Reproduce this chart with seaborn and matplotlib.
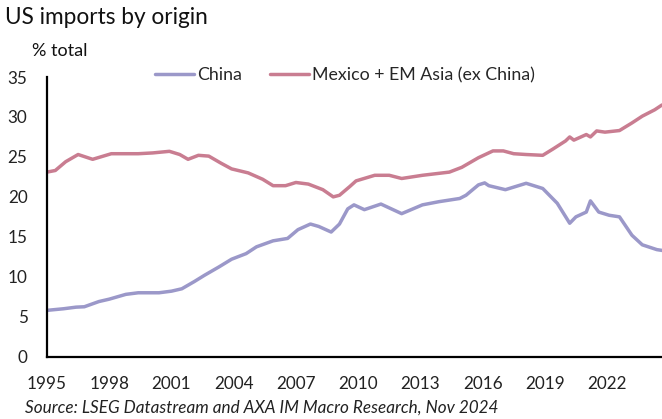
import matplotlib
matplotlib.use("Agg")
import matplotlib.pyplot as plt
import seaborn as sns
import pandas as pd
from matplotlib.lines import Line2D

china_x = [1995.0, 1995.8, 1996.4, 1996.8, 1997.5, 1998.0, 1998.8, 1999.4, 2000.4, 2001.0,
           2001.5, 2002.1, 2002.6, 2003.3, 2003.9, 2004.6, 2005.1, 2005.9, 2006.6, 2007.1,
           2007.7, 2008.1, 2008.7, 2009.1, 2009.5, 2009.8, 2010.3, 2011.1, 2012.1, 2013.1,
           2013.9, 2014.9, 2015.2, 2015.8, 2016.1, 2016.3, 2017.1, 2018.1, 2018.9, 2019.6,
           2020.2, 2020.5, 2021.0, 2021.2, 2021.6, 2022.1, 2022.6, 2023.2, 2023.7, 2024.4,
           2024.65]
china_y = [5.8, 6.0, 6.2, 6.25, 6.9, 7.2, 7.8, 8.0, 8.0, 8.2,
           8.5, 9.4, 10.2, 11.25, 12.2, 12.9, 13.75, 14.5, 14.8, 15.9,
           16.6, 16.3, 15.6, 16.6, 18.5, 19.0, 18.4, 19.1, 17.9, 19.0,
           19.4, 19.8, 20.2, 21.5, 21.75, 21.4, 20.9, 21.7, 21.05, 19.2,
           16.7, 17.5, 18.1, 19.5, 18.1, 17.7, 17.5, 15.2, 14.0, 13.4,
           13.3]

mex_x = [1995.0, 1995.4, 1995.9, 1996.5, 1997.2, 1998.1, 1999.4, 2000.1, 2000.9, 2001.4,
         2001.8, 2002.3, 2002.8, 2003.4, 2003.9, 2004.7, 2005.4, 2005.9, 2006.5, 2007.0,
         2007.6, 2008.3, 2008.8, 2009.1, 2009.6, 2009.9, 2010.8, 2011.5, 2012.1, 2013.1,
         2014.4, 2015.0, 2015.8, 2016.5, 2017.0, 2017.5, 2018.1, 2018.9, 2019.4, 2020.0,
         2020.2, 2020.4, 2021.0, 2021.2, 2021.5, 2021.9, 2022.6, 2023.2, 2023.7, 2024.3,
         2024.65]
mex_y = [23.1, 23.3, 24.4, 25.3, 24.7, 25.4, 25.4, 25.5, 25.7, 25.3,
         24.7, 25.2, 25.1, 24.2, 23.5, 23.0, 22.2, 21.4, 21.4, 21.8,
         21.6, 20.9, 20.0, 20.2, 21.3, 22.0, 22.7, 22.7, 22.3, 22.7,
         23.1, 23.7, 24.9, 25.75, 25.75, 25.4, 25.3, 25.2, 26.0, 27.0,
         27.5, 27.1, 27.8, 27.5, 28.25, 28.1, 28.3, 29.25, 30.1, 30.9,
         31.5]

series_names = ["China", "Mexico + EM Asia (ex China)"]
colors = ["#9B98C9", "#C97D91"]
x_ticks = [1995, 1998, 2001, 2004, 2007, 2010, 2013, 2016, 2019, 2022]
y_ticks = [0, 5, 10, 15, 20, 25, 30, 35]

df = pd.concat([
    pd.DataFrame({"year": china_x, "value": china_y, "series": series_names[0]}),
    pd.DataFrame({"year": mex_x, "value": mex_y, "series": series_names[1]}),
], ignore_index=True)

sns.set_theme(style="white")
plt.rcParams["font.family"] = ["Lato", "DejaVu Sans"]

fig = plt.figure(figsize=(6.62, 4.19), dpi=100)
ax = fig.add_axes([47 / 662, 1 - 356.7 / 419, 1 - 47 / 662, (356.7 - 77) / 419])

sns.lineplot(data=df, x="year", y="value", hue="series", hue_order=series_names,
             palette=colors, linewidth=2.5, ax=ax, legend=False, sort=False)

ax.set_xlim(1995, 2024.65)
ax.set_ylim(0, 35)
ax.set_xticks(x_ticks)
ax.set_xticklabels([str(t) for t in x_ticks])
ax.set_yticks(y_ticks)
ax.set_xlabel("")
ax.set_ylabel("")
for s in ["top", "right"]:
    ax.spines[s].set_visible(False)
for s in ["left", "bottom"]:
    ax.spines[s].set_color("black")
    ax.spines[s].set_linewidth(1.6)
ax.tick_params(axis="both", direction="in", length=5, width=1.6, colors="black",
               labelsize=12.3, labelcolor="#222222")
ax.tick_params(axis="x", pad=14)
ax.tick_params(axis="y", pad=14)

handles = [Line2D([], [], color=c, linewidth=2.5) for c in colors]
ax.legend(handles, series_names, loc="center left", bbox_to_anchor=(155 / 662, 1 - 75 / 419),
          bbox_transform=fig.transFigure, ncol=2, frameon=False, fontsize=12.8,
          handlelength=2.2, handletextpad=0.15, columnspacing=1.6,
          borderpad=0, borderaxespad=0)

fig.text(5 / 662, 1 - 18 / 419, "US imports by origin", fontsize=16.3, va="center",
         ha="left", color="#111111")
fig.text(32 / 662, 1 - 51 / 419, "% total", fontsize=13, va="center", ha="left",
         color="#111111")
fig.text(25 / 662, 1 - 408 / 419,
         "Source: LSEG Datastream and AXA IM Macro Research, Nov 2024",
         fontsize=12.3, style="italic", va="center", ha="left", color="#222222")

fig.savefig("out.png", dpi=100)
